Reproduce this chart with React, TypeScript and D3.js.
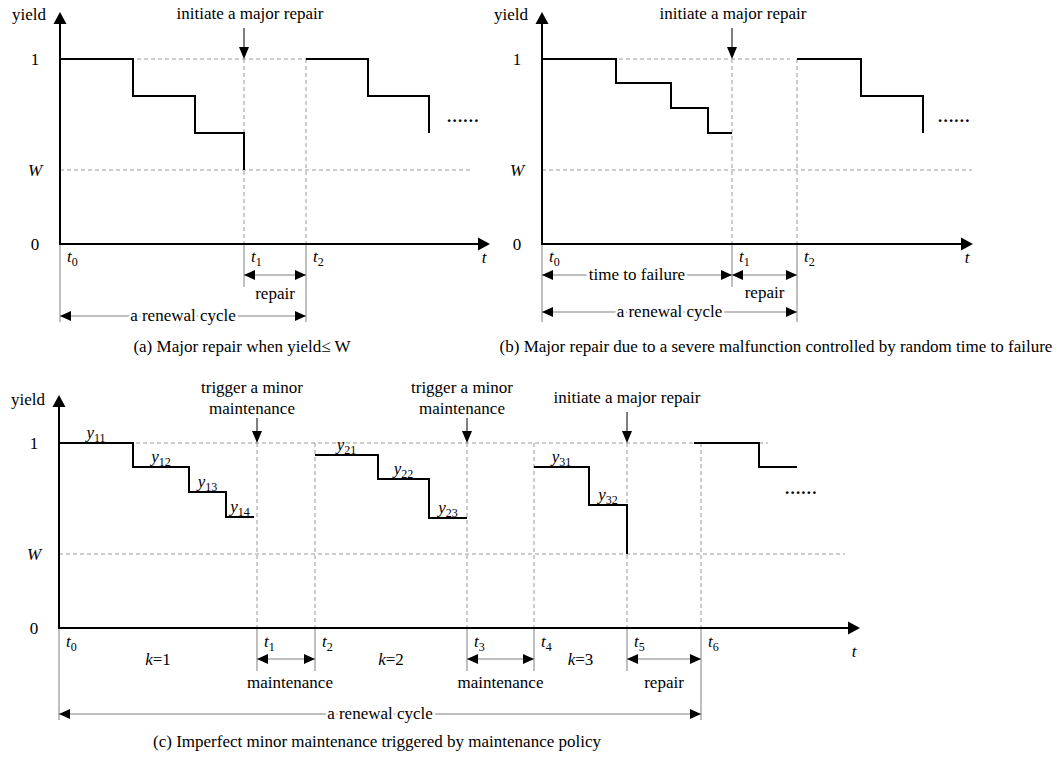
import React from "react";
import * as d3 from "d3";

const FONT = "'Liberation Serif','Times New Roman',serif";

// shared y-axis levels
const yTickValues = [1, 0.4, 0];
const yTickLabels = ["1", "W", "0"];
const W = 0.4;

// Panel (a)
const aCycle1Times = [0, 7.3, 13.5, 18.4];
const aCycle1Yields = [1, 0.8, 0.6, 0.4];
const aCycle2Times = [24.6, 30.8, 36.9];
const aCycle2Yields = [1, 0.8, 0.6];
const aEventTimes = [0, 18.4, 24.6];
const aEventLabels = ["0", "1", "2"];

// Panel (b)
const bCycle1Times = [0, 7.4, 12.9, 16.6, 19.0];
const bCycle1Yields = [1, 0.87, 0.735, 0.6, 0.6];
const bCycle2Times = [25.5, 31.9, 38.1];
const bCycle2Yields = [1, 0.8, 0.6];
const bEventTimes = [0, 19.0, 25.5];
const bEventLabels = ["0", "1", "2"];

// Panel (c)
const cCycle1Times = [0, 7.4, 13.0, 16.7, 19.5];
const cCycle1Yields = [1, 0.87, 0.735, 0.6, 0.6];
const cCycle1Labels = ["11", "12", "13", "14"];
const cCycle2Times = [25.6, 31.9, 37.0, 40.8];
const cCycle2Yields = [0.935, 0.805, 0.595, 0.595];
const cCycle2Labels = ["21", "22", "23"];
const cCycle3Times = [47.5, 53.0, 56.8];
const cCycle3Yields = [0.87, 0.665, 0.4];
const cCycle3Labels = ["31", "32"];
const cCycle4Times = [63.5, 70.0, 73.8];
const cCycle4Yields = [1, 0.87, 0.87];
const cEventTimes = [0, 19.8, 25.6, 40.8, 47.5, 56.8, 64.2];
const cEventLabels = ["0", "1", "2", "3", "4", "5", "6"];
const cPhaseLabels = ["1", "2", "3"];

const DASH = "#9a9a9a";
const GRAY = "#808080";

function head(x: number, y: number, dir: string, len = 11, hw = 5) {
  if (dir === "right") return `M${x},${y}L${x - len},${y - hw}L${x - len},${y + hw}Z`;
  if (dir === "left") return `M${x},${y}L${x + len},${y - hw}L${x + len},${y + hw}Z`;
  if (dir === "down") return `M${x},${y}L${x - hw},${y - len}L${x + hw},${y - len}Z`;
  return `M${x},${y}L${x - hw},${y + len}L${x + hw},${y + len}Z`;
}

function Txt(props: any) {
  const { children, ...rest } = props;
  return (
    <text fontFamily={FONT} fontSize={17} fill="#000" {...rest}>
      {children}
    </text>
  );
}

function Sub({ x, y, base, sub, anchor = "start" }: any) {
  return (
    <text x={x} y={y} fontFamily={FONT} fontSize={17} textAnchor={anchor} fill="#000">
      <tspan fontStyle="italic">{base}</tspan>
      <tspan fontSize={12} dy={4}>{sub}</tspan>
    </text>
  );
}

function DimArrow({ x1, x2, y, label, onLine }: any) {
  return (
    <g>
      <line x1={x1} x2={x2} y1={y} y2={y} stroke={GRAY} strokeWidth={1} />
      <path d={head(x1, y, "left")} fill="#000" />
      <path d={head(x2, y, "right")} fill="#000" />
      {label && onLine && (
        <Txt x={(x1 + x2) / 2} y={y + 5} textAnchor="middle" stroke="#fff" strokeWidth={5} paintOrder="stroke">
          {label}
        </Txt>
      )}
    </g>
  );
}

function Axes({ xs, ys, tipY, xEnd, tAxisY, yieldY }: any) {
  const x0 = xs(0);
  const y0 = ys(0);
  return (
    <g>
      <line x1={x0} x2={x0} y1={y0} y2={tipY + 8} stroke="#000" strokeWidth={2} />
      <path d={head(x0, tipY, "up", 12, 6.5)} fill="#000" />
      <line x1={x0 - 1} x2={xs(xEnd) - 8} y1={y0} y2={y0} stroke="#000" strokeWidth={2} />
      <path d={head(xs(xEnd), y0, "right", 12, 6.5)} fill="#000" />
      <Txt x={x0 - 14} y={yieldY} textAnchor="end">yield</Txt>
      {yTickValues.map((v, i) => (
        <Txt key={i} x={x0 - 25} y={ys(v) + 6} textAnchor="middle" fontStyle={yTickLabels[i] === "W" ? "italic" : "normal"}>
          {yTickLabels[i]}
        </Txt>
      ))}
      <Txt x={xs(xEnd) - 6} y={tAxisY} textAnchor="middle" fontStyle="italic">t</Txt>
    </g>
  );
}

function Steps({ xs, ys, times, yields }: any) {
  const line = d3
    .line<[number, number]>()
    .x((d) => xs(d[0]))
    .y((d) => ys(d[1]))
    .curve(d3.curveStepAfter);
  const pts = times.map((t: number, i: number) => [t, yields[i]] as [number, number]);
  return <path d={line(pts) || ""} fill="none" stroke="#000" strokeWidth={2} />;
}

function StepLabels({ xs, ys, times, yields, labels }: any) {
  return (
    <g>
      {labels.map((l: string, i: number) => (
        <Sub key={i} x={xs((times[i] + times[i + 1]) / 2)} y={ys(yields[i]) - 5} base="y" sub={l} anchor="middle" />
      ))}
    </g>
  );
}

function Dots({ x, y }: any) {
  return (
    <Txt x={x} y={y} fontWeight="bold" letterSpacing={1.2}>
      ......
    </Txt>
  );
}

export default function App() {
  // ---------- Panel (a)
  const axs = d3.scaleLinear().domain([0, 43]).range([60, 490]);
  const ays = d3.scaleLinear().domain([0, 1]).range([244, 59]);
  const aT1 = aEventTimes[1];
  const aT2 = aEventTimes[2];

  // ---------- Panel (b)
  const bxs = d3.scaleLinear().domain([0, 43.1]).range([542, 973]);
  const bys = d3.scaleLinear().domain([0, 1]).range([244, 59]);
  const bT1 = bEventTimes[1];
  const bT2 = bEventTimes[2];

  // ---------- Panel (c)
  const cxs = d3.scaleLinear().domain([0, 80.1]).range([59, 860]);
  const cys = d3.scaleLinear().domain([0, 1]).range([628, 443]);

  return (
    <svg width={1061} height={757} style={{ position: "absolute", left: 0, top: 0, background: "#fff" }}>
      <rect x={0} y={0} width={1061} height={757} fill="#fff" />

      {/* ================= Panel (a) ================= */}
      <g>
        <line x1={axs(0)} x2={axs(aT2)} y1={ays(1)} y2={ays(1)} stroke={DASH} strokeDasharray="4,3" />
        <line x1={axs(0)} x2={axs(41)} y1={ays(W)} y2={ays(W)} stroke={DASH} strokeDasharray="4,3" />
        <line x1={axs(aT1)} x2={axs(aT1)} y1={ays(1)} y2={ays(0)} stroke={DASH} strokeDasharray="4,3" />
        <line x1={axs(aT2)} x2={axs(aT2)} y1={ays(1)} y2={ays(0)} stroke={DASH} strokeDasharray="4,3" />
        <line x1={axs(0)} x2={axs(0)} y1={ays(0)} y2={322} stroke={GRAY} />
        <line x1={axs(aT1)} x2={axs(aT1)} y1={ays(0)} y2={287} stroke={GRAY} />
        <line x1={axs(aT2)} x2={axs(aT2)} y1={ays(0)} y2={322} stroke={GRAY} />
        <Steps xs={axs} ys={ays} times={aCycle1Times} yields={aCycle1Yields} />
        <Steps xs={axs} ys={ays} times={aCycle2Times} yields={aCycle2Yields} />
        <Axes xs={axs} ys={ays} tipY={12} xEnd={43} tAxisY={263} yieldY={20} />
        <Dots x={axs(38.7)} y={122} />
        <line x1={axs(aT1)} x2={axs(aT1)} y1={28} y2={50} stroke="#000" />
        <path d={head(axs(aT1), ays(1), "down", 12, 5)} fill="#000" />
        <Txt x={250} y={19} textAnchor="middle">initiate a major repair</Txt>
        {aEventTimes.map((t, i) => (
          <Sub key={i} x={axs(t) + 7} y={262} base="t" sub={aEventLabels[i]} />
        ))}
        <DimArrow x1={axs(aT1)} x2={axs(aT2)} y={275} />
        <Txt x={(axs(aT1) + axs(aT2)) / 2} y={299} textAnchor="middle">repair</Txt>
        <DimArrow x1={axs(0)} x2={axs(aT2)} y={316} label="a renewal cycle" onLine />
        <Txt x={242} y={352} textAnchor="middle">(a) Major repair when yield≤ W</Txt>
      </g>

      {/* ================= Panel (b) ================= */}
      <g>
        <line x1={bxs(0)} x2={bxs(24.8)} y1={bys(1)} y2={bys(1)} stroke={DASH} strokeDasharray="4,3" />
        <line x1={bxs(0)} x2={bxs(43)} y1={bys(W)} y2={bys(W)} stroke={DASH} strokeDasharray="4,3" />
        <line x1={bxs(bT1)} x2={bxs(bT1)} y1={bys(1)} y2={bys(0)} stroke={DASH} strokeDasharray="4,3" />
        <line x1={bxs(bT2)} x2={bxs(bT2)} y1={bys(1)} y2={bys(0)} stroke={DASH} strokeDasharray="4,3" />
        <line x1={bxs(0)} x2={bxs(0)} y1={bys(0)} y2={322} stroke={GRAY} />
        <line x1={bxs(bT1)} x2={bxs(bT1)} y1={bys(0)} y2={287} stroke={GRAY} />
        <line x1={bxs(bT2)} x2={bxs(bT2)} y1={bys(0)} y2={322} stroke={GRAY} />
        <Steps xs={bxs} ys={bys} times={bCycle1Times} yields={bCycle1Yields} />
        <Steps xs={bxs} ys={bys} times={bCycle2Times} yields={bCycle2Yields} />
        <Axes xs={bxs} ys={bys} tipY={12} xEnd={43.1} tAxisY={263} yieldY={20} />
        <Dots x={bxs(39.6)} y={122} />
        <line x1={bxs(bT1)} x2={bxs(bT1)} y1={28} y2={50} stroke="#000" />
        <path d={head(bxs(bT1), bys(1), "down", 12, 5)} fill="#000" />
        <Txt x={733} y={19} textAnchor="middle">initiate a major repair</Txt>
        {bEventTimes.map((t, i) => (
          <Sub key={i} x={bxs(t) + 7} y={262} base="t" sub={bEventLabels[i]} />
        ))}
        <DimArrow x1={bxs(0)} x2={bxs(bT1)} y={275} label="time to failure" onLine />
        <DimArrow x1={bxs(bT1)} x2={bxs(bT2)} y={275} />
        <Txt x={(bxs(bT1) + bxs(bT2)) / 2} y={298} textAnchor="middle">repair</Txt>
        <DimArrow x1={bxs(0)} x2={bxs(bT2)} y={312} label="a renewal cycle" onLine />
        <Txt x={776} y={352} textAnchor="middle">(b) Major repair due to a severe malfunction controlled by random time to failure</Txt>
      </g>

      {/* ================= Panel (c) ================= */}
      <g>
        <line x1={cxs(0)} x2={cxs(70.9)} y1={cys(1)} y2={cys(1)} stroke={DASH} strokeDasharray="4,3" />
        <line x1={cxs(0)} x2={cxs(78.6)} y1={cys(W)} y2={cys(W)} stroke={DASH} strokeDasharray="4,3" />
        {cEventTimes.slice(1).map((t, i) => (
          <line key={i} x1={cxs(t)} x2={cxs(t)} y1={cys(1)} y2={cys(0)} stroke={DASH} strokeDasharray="4,3" />
        ))}
        <line x1={cxs(0)} x2={cxs(0)} y1={cys(0)} y2={720} stroke={GRAY} />
        {cEventTimes.slice(1).map((t, i) => (
          <line key={i} x1={cxs(t)} x2={cxs(t)} y1={cys(0)} y2={i === 5 ? 720 : 671} stroke={GRAY} />
        ))}
        <Steps xs={cxs} ys={cys} times={cCycle1Times} yields={cCycle1Yields} />
        <Steps xs={cxs} ys={cys} times={cCycle2Times} yields={cCycle2Yields} />
        <Steps xs={cxs} ys={cys} times={cCycle3Times} yields={cCycle3Yields} />
        <Steps xs={cxs} ys={cys} times={cCycle4Times} yields={cCycle4Yields} />
        <StepLabels xs={cxs} ys={cys} times={cCycle1Times} yields={cCycle1Yields} labels={cCycle1Labels} />
        <StepLabels xs={cxs} ys={cys} times={cCycle2Times} yields={cCycle2Yields} labels={cCycle2Labels} />
        <StepLabels xs={cxs} ys={cys} times={cCycle3Times} yields={cCycle3Yields} labels={cCycle3Labels} />
        <Axes xs={cxs} ys={cys} tipY={395} xEnd={80.1} tAxisY={657} yieldY={405} />
        <Dots x={cxs(72.6)} y={494} />

        {/* annotations */}
        {[1, 3].map((k) => (
          <g key={k}>
            <line x1={cxs(cEventTimes[k])} x2={cxs(cEventTimes[k])} y1={418} y2={434} stroke="#000" />
            <path d={head(cxs(cEventTimes[k]), cys(1), "down", 12, 5)} fill="#000" />
            <Txt x={cxs(cEventTimes[k]) - 5} y={393} textAnchor="middle">trigger a minor</Txt>
            <Txt x={cxs(cEventTimes[k]) - 5} y={414} textAnchor="middle">maintenance</Txt>
          </g>
        ))}
        <line x1={cxs(cEventTimes[5])} x2={cxs(cEventTimes[5])} y1={412} y2={434} stroke="#000" />
        <path d={head(cxs(cEventTimes[5]), cys(1), "down", 12, 5)} fill="#000" />
        <Txt x={cxs(cEventTimes[5])} y={403} textAnchor="middle">initiate a major repair</Txt>

        {cEventTimes.map((t, i) => (
          <Sub key={i} x={cxs(t) + 7} y={647} base="t" sub={cEventLabels[i]} />
        ))}
        {cPhaseLabels.map((p, i) => {
          const starts = [cEventTimes[0], cEventTimes[2], cEventTimes[4]];
          const ends = [cEventTimes[1], cEventTimes[3], cEventTimes[5]];
          return (
            <Txt key={i} x={(cxs(starts[i]) + cxs(ends[i])) / 2} y={665} textAnchor="middle">
              <tspan fontStyle="italic">k</tspan>={p}
            </Txt>
          );
        })}
        <DimArrow x1={cxs(cEventTimes[1])} x2={cxs(cEventTimes[2])} y={659} />
        <DimArrow x1={cxs(cEventTimes[3])} x2={cxs(cEventTimes[4])} y={659} />
        <DimArrow x1={cxs(cEventTimes[5])} x2={cxs(cEventTimes[6])} y={659} />
        <Txt x={(cxs(cEventTimes[1]) + cxs(cEventTimes[2])) / 2 + 4} y={688} textAnchor="middle">maintenance</Txt>
        <Txt x={(cxs(cEventTimes[3]) + cxs(cEventTimes[4])) / 2} y={688} textAnchor="middle">maintenance</Txt>
        <Txt x={(cxs(cEventTimes[5]) + cxs(cEventTimes[6])) / 2} y={688} textAnchor="middle">repair</Txt>
        <DimArrow x1={cxs(0)} x2={cxs(cEventTimes[6])} y={714} label="a renewal cycle" onLine />
        <Txt x={377} y={747} textAnchor="middle">(c) Imperfect minor maintenance triggered by maintenance policy</Txt>
      </g>
    </svg>
  );
}
